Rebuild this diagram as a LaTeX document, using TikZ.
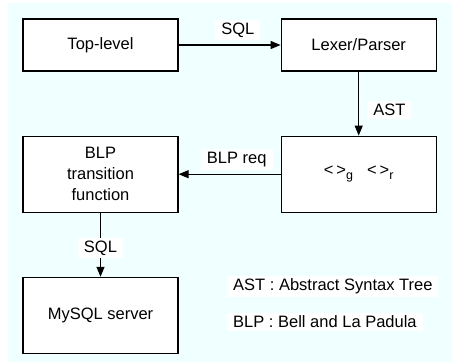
\documentclass[tikz,border=0pt]{standalone}
\usepackage{fontspec}
\setmainfont{Liberation Sans}
\usetikzlibrary{arrows,arrows.meta,positioning}
\definecolor{bgcyan}{HTML}{F0FFFF}
\newcommand{\lowidx}[1]{\raisebox{-4pt}{\fontsize{12.5}{12.5}\selectfont #1}}

\begin{document}
\begin{tikzpicture}[x=1pt,y=1pt,node distance=102pt,>={Triangle[length=10pt,width=8pt]},
	box/.style={draw,line width=1.2pt,fill=white,minimum width=155pt,minimum height=52pt,align=center,font=\fontsize{16.5}{21}\selectfont},
	tall box/.style={box,minimum height=76pt},
	lbl/.style={fill=white,inner xsep=6pt,inner ysep=3pt,font=\fontsize{16.5}{21}\selectfont}]
	\useasboundingbox (0,0) rectangle (452,-362);
	\fill[bgcyan] (8,-3) rectangle (452,-362);
	\node[box] (top) at (100.5,-45) {Top-level};
	\node[box] (lexer) [right=102pt of top] {Lexer/Parser};
	\node[tall box] (sets) [below=64pt of lexer] {<\hspace{3pt}>\lowidx{g}\hspace{14pt}<\hspace{3pt}>\lowidx{r}};
	\node[tall box] (blp) [left=102pt of sets] {BLP\\transition\\function};
	\node[tall box] (mysql) [below=64pt of blp] {MySQL server};
	\draw[->,line width=1.2pt] (top) -- node[lbl,pos=0.58,above=4pt] (sqlone) {SQL} (lexer);
	\draw[->,line width=1.2pt] (lexer) -- node[lbl,pos=0.6,right=8pt] (ast) {AST} (sets);
	\draw[->,line width=1.2pt] (sets) -- node[lbl,pos=0.43,above=4pt] (req) {BLP req} (blp);
	\draw[->,line width=1.2pt] (blp) -- node[lbl,pos=0.55] (sqltwo) {SQL} (mysql);
	\node[lbl,anchor=west] (astkey) at (227,-286.5) {AST : Abstract Syntax Tree};
	\node[lbl,anchor=west] (blpkey) at (227,-322) {BLP : Bell and La Padula};
\end{tikzpicture}
\end{document}
